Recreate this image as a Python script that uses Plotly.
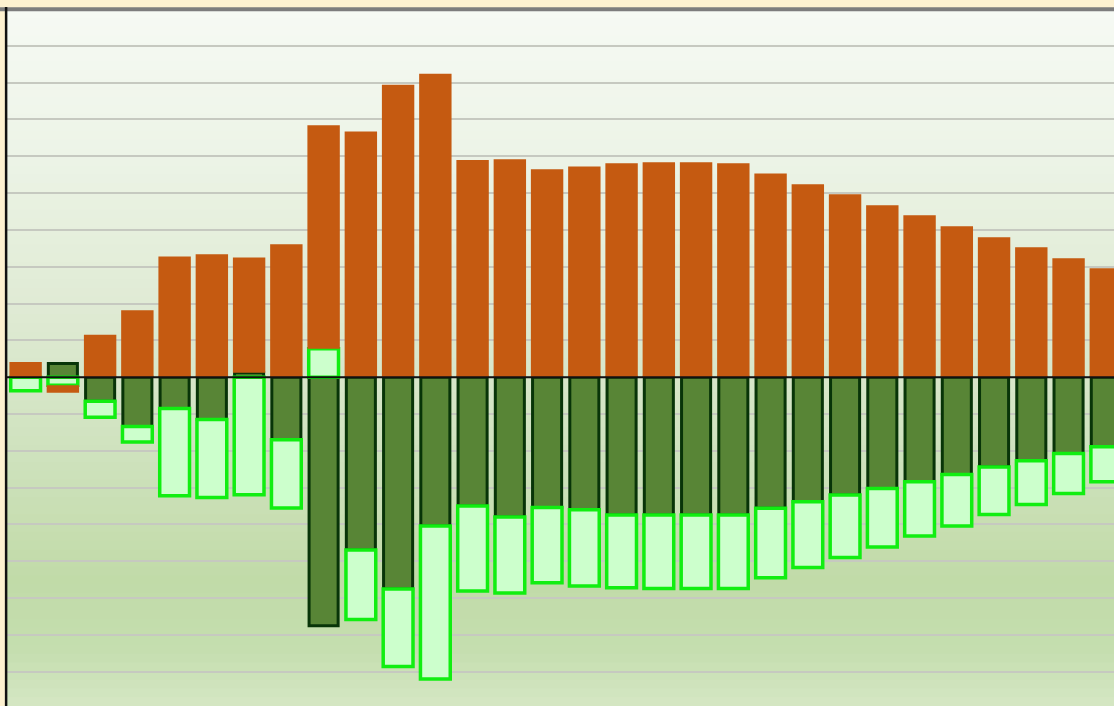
import plotly.graph_objects as go

categories = list(range(30))

dark_green = [0.0, 0.37, -0.65, -1.34, -0.85, -1.15, 0.12, -1.70, -6.75, -4.69,
              -5.75, -4.04, -3.50, -3.80, -3.54, -3.60, -3.74, -3.74, -3.74, -3.74,
              -3.56, -3.38, -3.20, -3.02, -2.84, -2.64, -2.44, -2.27, -2.07, -1.89]

light_green = [-0.37, -0.22, -0.44, -0.42, -2.37, -2.12, -3.19, -1.85, 0.77, -1.89,
               -2.11, -4.16, -2.31, -2.06, -2.04, -2.07, -1.98, -2.00, -2.00, -2.00,
               -1.89, -1.79, -1.70, -1.59, -1.47, -1.40, -1.29, -1.19, -1.09, -0.95]

orange = [0.41, -0.20, 1.15, 1.82, 3.28, 3.34, 3.13, 3.61, 6.07, 6.67,
          7.94, 8.24, 5.90, 5.92, 5.65, 5.72, 5.81, 5.84, 5.84, 5.81,
          5.53, 5.24, 4.97, 4.67, 4.40, 4.10, 3.80, 3.53, 3.23, 2.96]

W, H = 1114, 706
ML, MT = 7, 9
BEIGE = "#fdf1d0"

fig = go.Figure()
fig.add_trace(go.Bar(x=categories, y=dark_green, width=0.78,
                     marker=dict(color="#588536", line=dict(color="#083408", width=3)),
                     showlegend=False))
fig.add_trace(go.Bar(x=categories, y=light_green, width=0.80,
                     marker=dict(color="#ccffcc", line=dict(color="#11ee11", width=3.5)),
                     showlegend=False))
fig.add_trace(go.Bar(x=categories, y=orange, width=0.87,
                     marker=dict(color="#c55a11", line=dict(width=0)),
                     showlegend=False))

# vertical gradient background
stops = [(9, (246, 250, 244)), (150, (237, 244, 231)), (300, (224, 235, 213)),
         (450, (207, 226, 190)), (580, (193, 219, 168)), (650, (197, 222, 175)),
         (706, (213, 231, 196))]

def col_at(py):
    for (y0, c0), (y1, c1) in zip(stops[:-1], stops[1:]):
        if y0 <= py <= y1:
            t = (py - y0) / (y1 - y0)
            return tuple(round(a + (b - a) * t) for a, b in zip(c0, c1))
    return stops[-1][1]

shapes = []
n = 80
ph = H - MT
for i in range(n):
    py = MT + (i + 0.5) * ph / n
    c = col_at(py)
    shapes.append(dict(type="rect", xref="paper", yref="paper", x0=0, x1=1,
                       y0=max(0, 1 - (i + 1) / n - 0.004), y1=1 - i / n, layer="below",
                       line=dict(width=0), fillcolor="rgb(%d,%d,%d)" % c))
# zero line above bars
shapes.append(dict(type="line", xref="paper", yref="y", x0=0, x1=1, y0=0, y1=0,
                   layer="above", line=dict(color="#111111", width=2)))
# top border
shapes.append(dict(type="line", xref="paper", yref="paper", x0=-0.01, x1=1.01, y0=0.9995, y1=0.9995,
                   layer="above", line=dict(color="#7d7d7d", width=4)))
# left border
shapes.append(dict(type="line", xref="paper", yref="paper", x0=-0.0008, x1=-0.0008, y0=-0.01, y1=1.003,
                   layer="above", line=dict(color="#111111", width=2.5)))

fig.update_layout(
    width=W, height=H, autosize=False,
    margin=dict(l=ML, r=0, t=MT, b=0, pad=0),
    paper_bgcolor=BEIGE,
    plot_bgcolor="#eef4e8",
    barmode="relative",
    bargap=0.13,
    shapes=shapes,
    xaxis=dict(range=[-0.5, 29.22], showgrid=False, zeroline=False, showticklabels=False,
               showline=False, ticks=""),
    yaxis=dict(range=[-8.93, 10], dtick=1, tick0=0, showgrid=True, gridcolor="#c6c9c0",
               gridwidth=2, zeroline=False, showticklabels=False, showline=False, ticks=""),
)

fig.write_html(
    "out.html",
    config={"displayModeBar": False},
    post_script="document.body.style.margin='0';document.body.style.overflow='hidden';"
                "document.body.style.background='%s';" % BEIGE,
)
